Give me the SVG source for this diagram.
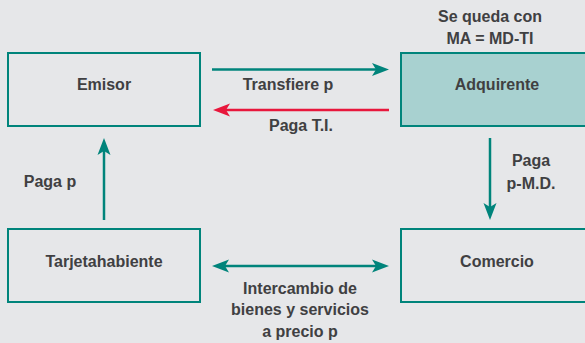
<svg xmlns="http://www.w3.org/2000/svg" width="585" height="343" viewBox="0 0 585 343">
  <style>
    text { font-family: "Liberation Sans", Arial, sans-serif; font-weight: bold; font-size: 16px; fill: #404042; text-anchor: middle; }
    .box { fill: none; stroke: #00847b; stroke-width: 2; }
    .box.fill { fill: #a8d1d0; }
    .edge { fill: none; stroke: #00847b; stroke-width: 2.5; }
    .edge.red { stroke: #e8173c; }
  </style>
  <defs>
    <marker id="ah" markerUnits="userSpaceOnUse" markerWidth="18" markerHeight="14" refX="9" refY="6.5" orient="auto-start-reverse" viewBox="0 0 18 13">
      <path d="M0,0 L17,6.5 L0,13 L4,6.5 Z" fill="#00847b"/>
    </marker>
    <marker id="ahr" markerUnits="userSpaceOnUse" markerWidth="18" markerHeight="14" refX="9" refY="6.5" orient="auto" viewBox="0 0 18 13">
      <path d="M0,0 L17,6.5 L0,13 L4,6.5 Z" fill="#e8173c"/>
    </marker>
  </defs>
  <rect width="585" height="343" fill="#e6e7e9"/>

  <g id="emisor">
    <rect class="box" x="8" y="53" width="192" height="73"/>
    <text x="104" y="90">Emisor</text>
  </g>
  <g id="adquirente">
    <text x="490" y="21.5">Se queda con</text>
    <text x="490" y="44">MA = MD-TI</text>
    <rect class="box fill" x="401" y="53" width="192" height="73"/>
    <text x="497" y="90">Adquirente</text>
  </g>
  <g id="tarjetahabiente">
    <rect class="box" x="8" y="229" width="192" height="73"/>
    <text x="104" y="267">Tarjetahabiente</text>
  </g>
  <g id="comercio">
    <rect class="box" x="401" y="229" width="192" height="73"/>
    <text x="497" y="267">Comercio</text>
  </g>

  <g id="connectors">
    <line class="edge" x1="212" y1="69.5" x2="381" y2="69.5" marker-end="url(#ah)"/>
    <text x="288" y="90">Transfiere p</text>
    <line class="edge red" x1="389" y1="110" x2="221" y2="110" marker-end="url(#ahr)"/>
    <text x="301" y="131">Paga T.I.</text>
    <line class="edge" x1="104" y1="220" x2="104" y2="146" marker-end="url(#ah)"/>
    <text x="50" y="187">Paga p</text>
    <line class="edge" x1="490" y1="138" x2="490" y2="212" marker-end="url(#ah)"/>
    <text x="531" y="166">Paga</text>
    <text x="531" y="188.5">p-M.D.</text>
    <line class="edge" x1="220" y1="266" x2="381" y2="266" marker-start="url(#ah)" marker-end="url(#ah)"/>
    <text x="300" y="293.5">Intercambio de</text>
    <text x="300" y="315">bienes y servicios</text>
    <text x="300" y="336.5">a precio p</text>
  </g>
</svg>
